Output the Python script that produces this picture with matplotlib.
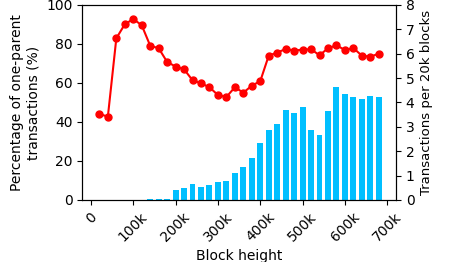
import matplotlib
matplotlib.use("Agg")
import matplotlib.pyplot as plt
from matplotlib.ticker import FuncFormatter

# block heights (centre of each 20k window)
heights = [20000 * i for i in range(1, 35)]

# percentage of one-parent transactions (left axis)
pct_one_parent = [44.1, 42.7, 82.9, 90.1, 92.8, 89.6, 79.1, 77.8, 70.8, 68.4,
                  67.0, 61.4, 59.8, 57.8, 53.8, 52.8, 57.8, 55.0, 58.6, 60.9,
                  74.0, 75.6, 77.4, 76.6, 77.1, 77.3, 74.2, 77.8, 79.3, 76.9,
                  77.9, 74.0, 73.5, 75.0]

# transactions per 20k blocks (right axis)
tx_per_window = [0, 0, 0, 0, 0, 0, 0.05, 0.05, 0.05, 0.41,
                 0.48, 0.64, 0.52, 0.61, 0.75, 0.78, 1.09, 1.37, 1.73, 2.34,
                 2.87, 3.10, 3.69, 3.55, 3.80, 2.87, 2.66, 3.66, 4.62, 4.34,
                 4.23, 4.13, 4.28, 4.23]

fig, ax1 = plt.subplots(figsize=(4.49, 2.62), dpi=100)
fig.subplots_adjust(left=0.183, right=0.882, top=0.981, bottom=0.237)

ax2 = ax1.twinx()
ax2.bar(heights, tx_per_window, width=14000, color="deepskyblue")
ax2.set_ylim(0, 8)
ax2.set_yticks(range(0, 9))
ax2.set_ylabel("Transactions per 20k blocks", fontsize=9.5)

ax1.plot(heights, pct_one_parent, color="red", marker="o", markersize=5)
ax1.set_ylim(0, 100)
ax1.set_ylabel("Percentage of one-parent\ntransactions (%)")
ax1.set_xlabel("Block height")
ax1.set_xticks(range(0, 700001, 100000))
ax1.xaxis.set_major_formatter(FuncFormatter(lambda v, p: "0" if v == 0 else f"{int(v/1000)}k"))
plt.setp(ax1.get_xticklabels(), rotation=45)

# keep the line above the bars
ax1.set_zorder(ax2.get_zorder() + 1)
ax1.patch.set_visible(False)

plt.savefig("out.png", dpi=100)
